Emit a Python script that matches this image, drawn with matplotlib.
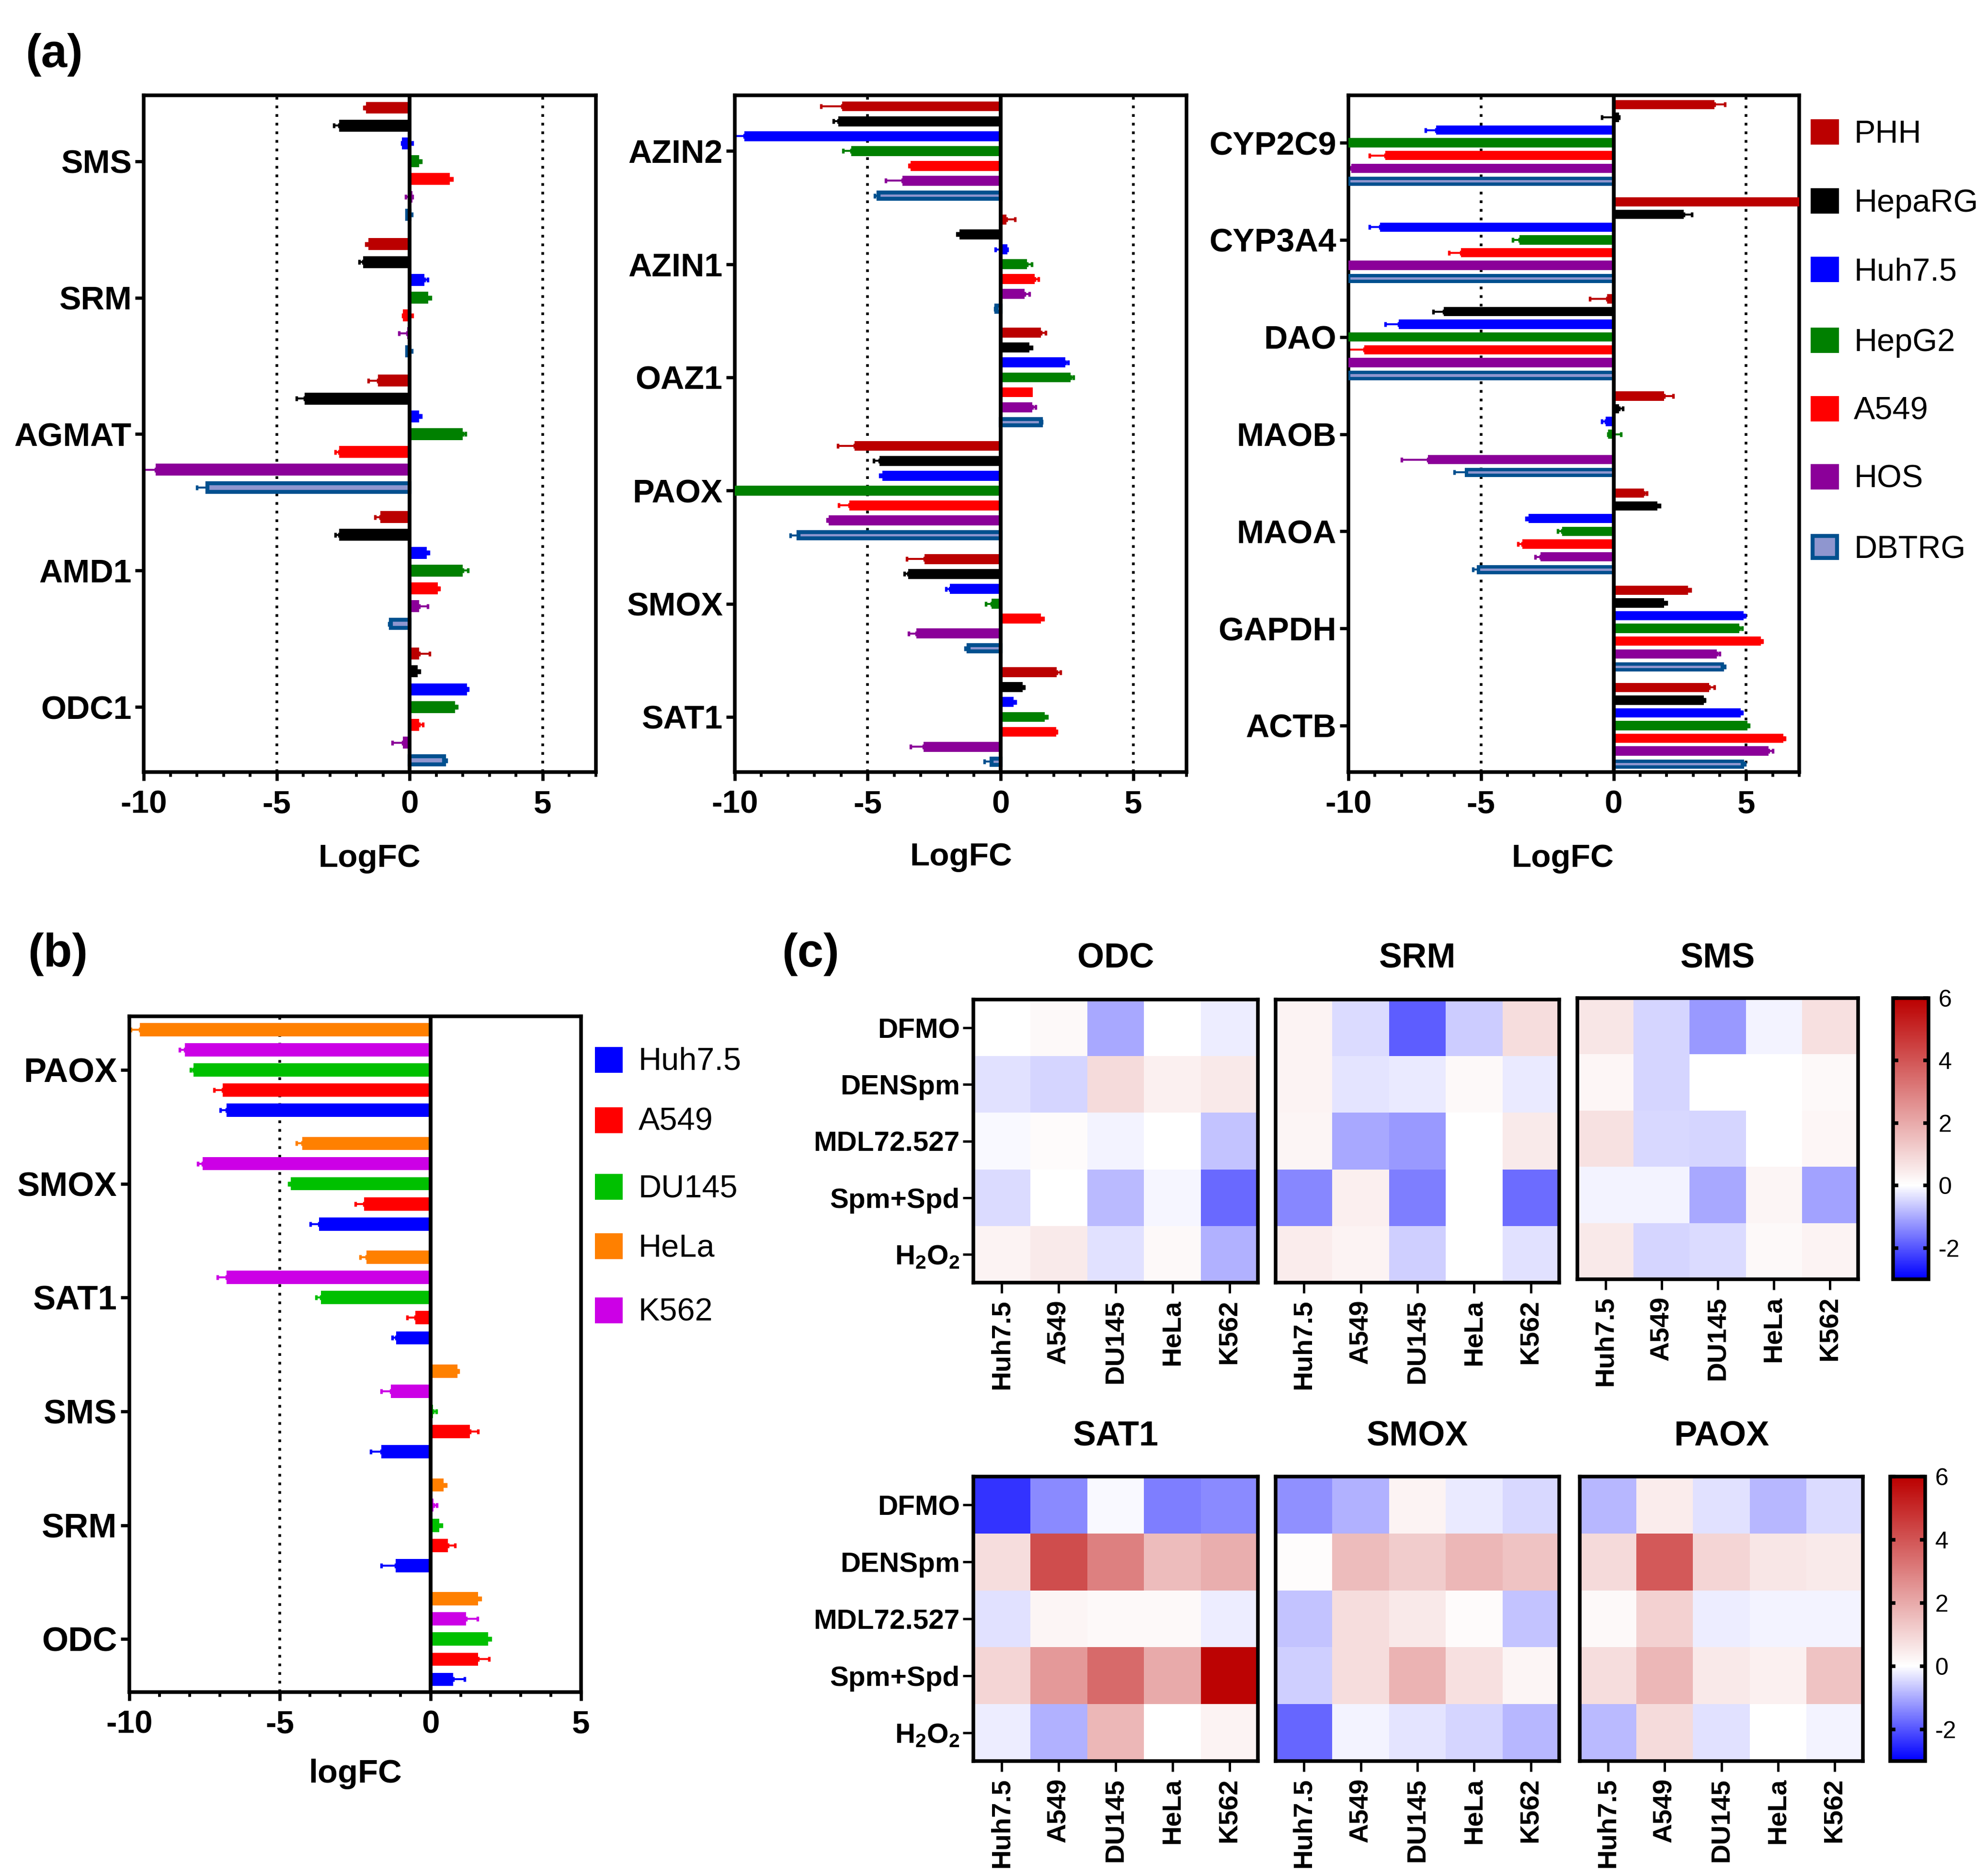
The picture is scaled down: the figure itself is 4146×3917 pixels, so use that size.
import matplotlib
matplotlib.use('Agg')
import matplotlib.pyplot as plt
import matplotlib.cm as cm
from matplotlib.colors import LinearSegmentedColormap, Normalize
from matplotlib.patches import Rectangle
import numpy as np

plt.rcParams['font.family'] = ['Liberation Sans', 'DejaVu Sans']
plt.rcParams['axes.unicode_minus'] = False
plt.rcParams['mathtext.fontset'] = 'custom'
plt.rcParams['mathtext.rm'] = 'Liberation Sans:bold'
plt.rcParams['mathtext.bf'] = 'Liberation Sans:bold'

W, H = 4146, 3917

# panel (a)
a_cells = ['PHH', 'HepaRG', 'Huh7.5', 'HepG2', 'A549', 'HOS', 'DBTRG']
a_colors = ['#BB0000', '#000000', '#0000FF', '#008000', '#FF0000', '#8B0099', '#00508F']

a1_genes = ['SMS', 'SRM', 'AGMAT', 'AMD1', 'ODC1']
a1_vals = [[-1.65, -2.65, -0.3, 0.35, 1.5, 0.1, -0.1],
           [-1.55, -1.75, 0.55, 0.7, -0.25, -0.1, -0.1],
           [-1.2, -3.95, 0.35, 2.0, -2.65, -9.55, -7.6],
           [-1.1, -2.65, 0.65, 2.0, 1.05, 0.35, -0.7],
           [0.35, 0.3, 2.15, 1.7, 0.35, -0.25, 1.3]]
a1_ends = [[-1.72, -2.85, 0.1, 0.42, 1.6, -0.15, 0.08],
           [-1.65, -1.9, 0.68, 0.78, 0.1, -0.4, 0.08],
           [-1.55, -4.25, 0.42, 2.1, -2.8, -10.0, -8.0],
           [-1.3, -2.8, 0.72, 2.2, 1.12, 0.68, -0.78],
           [0.75, 0.38, 2.2, 1.78, 0.5, -0.65, 1.38]]

a2_genes = ['AZIN2', 'AZIN1', 'OAZ1', 'PAOX', 'SMOX', 'SAT1']
a2_vals = [[-5.96, -6.11, -9.64, -5.62, -3.39, -3.69, -4.6],
           [0.22, -1.55, 0.25, 0.99, 1.29, 0.9, -0.15],
           [1.52, 1.09, 2.44, 2.63, 1.21, 1.2, 1.52],
           [-5.5, -4.56, -4.45, -10.0, -5.7, -6.46, -7.6],
           [-2.87, -3.48, -1.9, -0.34, 1.52, -3.17, -1.2],
           [2.12, 0.84, 0.49, 1.67, 2.09, -2.9, -0.33]]
a2_ends = [[-6.76, -6.28, -10.0, -5.92, -3.44, -4.32, -4.74],
           [0.54, -1.63, -0.2, 1.17, 1.43, 1.09, -0.22],
           [1.7, 1.17, 2.54, 2.75, 1.21, 1.32, 1.55],
           [-6.13, -4.78, -4.53, -10.0, -6.08, -6.52, -7.91],
           [-3.53, -3.62, -2.05, -0.55, 1.61, -3.45, -1.32],
           [2.26, 0.88, 0.57, 1.75, 2.11, -3.39, -0.6]]

a3_genes = ['CYP2C9', 'CYP3A4', 'DAO', 'MAOB', 'MAOA', 'GAPDH', 'ACTB']
a3_vals = [[3.8, 0.2, -6.7, -10.0, -8.6, -9.9, -10.0],
           [7.0, 2.65, -8.8, -3.55, -5.75, -10.0, -10.0],
           [-0.25, -6.4, -8.1, -10.0, -9.4, -10.0, -10.0],
           [1.9, 0.2, -0.3, -0.2, 0.0, -7.0, -5.55],
           [1.15, 1.65, -3.2, -1.95, -3.45, -2.75, -5.1],
           [2.8, 1.9, 4.9, 4.75, 5.55, 3.9, 4.1],
           [3.6, 3.4, 4.8, 5.05, 6.4, 5.85, 4.85]]
a3_ends = [[4.2, -0.45, -7.1, -10.0, -9.2, -10.0, -10.0],
           [7.0, 2.95, -9.2, -3.8, -6.2, -10.0, -10.0],
           [-0.9, -6.8, -8.6, -10.0, -10.0, -10.0, -10.0],
           [2.25, 0.35, -0.45, 0.28, 0.0, -8.0, -6.0],
           [1.25, 1.75, -3.3, -2.1, -3.6, -2.95, -5.3],
           [2.9, 2.0, 4.95, 4.85, 5.6, 4.0, 4.2],
           [3.8, 3.45, 4.85, 5.1, 6.45, 6.0, 4.95]]

# panel (b)
b_cells = ['HeLa', 'K562', 'DU145', 'A549', 'Huh7.5']
b_colors = ['#FF8000', '#CC00E6', '#00C000', '#FF0000', '#0000FF']
b_genes = ['PAOX', 'SMOX', 'SAT1', 'SMS', 'SRM', 'ODC']
b_vals = [[-9.65, -8.15, -7.87, -6.9, -6.77],
          [-4.25, -7.56, -4.64, -2.2, -3.7],
          [-2.13, -6.77, -3.63, -0.5, -1.14],
          [0.89, -1.31, 0.08, 1.31, -1.63],
          [0.44, 0.1, 0.29, 0.57, -1.16],
          [1.58, 1.18, 1.92, 1.58, 0.76]]
b_ends = [[-9.95, -8.33, -7.97, -7.18, -6.97],
          [-4.45, -7.73, -4.7, -2.49, -3.98],
          [-2.34, -7.08, -3.8, -0.77, -1.26],
          [0.92, -1.63, 0.2, 1.58, -1.98],
          [0.52, 0.22, 0.37, 0.81, -1.63],
          [1.66, 1.56, 2.0, 1.95, 1.14]]
b_legend = ['Huh7.5', 'A549', 'DU145', 'HeLa', 'K562']
b_legend_colors = ['#0000FF', '#FF0000', '#00C000', '#FF8000', '#CC00E6']

# panel (c)
treatments = ['DFMO', 'DENSpm', 'MDL72.527', 'Spm+Spd', r'$\mathbf{H_2O_2}$']
heat_cells = ['Huh7.5', 'A549', 'DU145', 'HeLa', 'K562']
odc = [[0, 0.15, -1.0, 0, -0.2],
       [-0.35, -0.5, 0.85, 0.35, 0.55],
       [-0.05, 0.12, -0.15, 0, -0.7],
       [-0.4, 0, -0.8, -0.1, -1.75],
       [0.3, 0.5, -0.35, 0.15, -0.9]]
srm = [[0.3, -0.4, -1.9, -0.6, 0.8],
       [0.3, -0.3, -0.25, 0.15, -0.25],
       [0.25, -1.0, -1.2, 0.02, 0.5],
       [-1.4, 0.4, -1.5, 0, -1.7],
       [0.45, 0.3, -0.55, 0, -0.35]]
sms = [[0.6, -0.5, -1.2, -0.15, 0.75],
       [0.2, -0.5, 0, 0, 0.15],
       [0.7, -0.45, -0.5, 0, 0.2],
       [-0.15, -0.12, -1.0, 0.25, -1.1],
       [0.55, -0.5, -0.4, 0.15, 0.3]]
sat1 = [[-2.4, -1.35, -0.08, -1.5, -1.35],
        [0.8, 4.2, 3.0, 1.6, 1.9],
        [-0.35, 0.25, 0.15, 0.15, -0.2],
        [1.0, 2.4, 3.5, 2.0, 5.9],
        [-0.2, -0.9, 1.7, 0, 0.3]]
smox = [[-1.3, -0.9, 0.3, -0.25, -0.45],
        [0.07, 1.6, 1.2, 1.7, 1.4],
        [-0.7, 0.8, 0.55, 0.1, -0.7],
        [-0.55, 0.8, 1.8, 0.75, 0.25],
        [-1.8, -0.15, -0.3, -0.5, -0.85]]
paox = [[-0.85, 0.45, -0.35, -0.85, -0.4],
        [0.9, 3.9, 1.0, 0.6, 0.5],
        [0.15, 1.1, -0.2, -0.12, -0.15],
        [0.8, 1.7, 0.55, 0.35, 1.4],
        [-0.8, 0.85, -0.35, 0, -0.15]]

fig = plt.figure(figsize=(W / 300, H / 300), dpi=300, facecolor='white')


def px_axes(l, t, r, b):
    return fig.add_axes([l / W, 1 - b / H, (r - l) / W, (b - t) / H])


def px_text(x, y, s, **kw):
    kw.setdefault('ha', 'center')
    kw.setdefault('va', 'center')
    fig.text(x / W, 1 - y / H, s, **kw)


def px_swatch(x, yc, w, h, face, edge='none', lw=0):
    # x is the left edge, yc the vertical centre
    fig.add_artist(Rectangle((x / W, 1 - (yc + h / 2) / H), w / W, h / H, facecolor=face,
                             edgecolor=edge, linewidth=lw, transform=fig.transFigure))


def bar_panel(ax, genes, vals, ends, colors, xmax, step, margin, thick, dbtrg_thick=None,
              dbtrg_lw=2.0, ysize=16.4):
    n = len(vals[0])
    mid = (n - 1) / 2
    for g, (row, row_end) in enumerate(zip(vals, ends)):
        for j in range(n):
            y = g * step + j - mid
            v, e = row[j], row_end[j]
            if v == 0 and e == 0:
                continue
            if e != v:
                lo, up = max(v - e, 0), max(e - v, 0)
                ax.errorbar(v, y, xerr=[[lo], [up]], color=colors[j], elinewidth=1.0,
                            capsize=1.3, capthick=1.3, zorder=2)
            if dbtrg_thick is not None and j == n - 1:
                ax.barh(y, v, height=dbtrg_thick, color='#8F96CF', edgecolor=colors[j],
                        linewidth=dbtrg_lw, zorder=3)
            else:
                ax.barh(y, v, height=thick, color=colors[j], linewidth=0, zorder=3)
    ax.axvline(0, color='black', lw=1.9, zorder=5)
    ax.axvline(-5, color='black', ls=(0, (1, 2.2)), lw=1.35, zorder=1)
    if xmax > 5:
        ax.axvline(5, color='black', ls=(0, (1, 2.2)), lw=1.35, zorder=1)
    ax.set_xlim(-10, xmax)
    ax.set_ylim((len(genes) - 1) * step + mid + margin[1], -mid - margin[0])
    ax.set_xticks([-10, -5, 0, 5])
    ax.set_xticklabels(['-10', '-5', '0', '5'], fontsize=16.2, fontweight='bold')
    ax.set_xticks(np.arange(-10, xmax + 1), minor=True)
    ax.set_yticks([g * step for g in range(len(genes))])
    ax.set_yticklabels(genes, fontsize=ysize, fontweight='bold')
    ax.tick_params(axis='x', which='major', length=4.3, width=1.6, pad=4.8)
    ax.tick_params(axis='x', which='minor', length=2.4, width=1.4)
    ax.tick_params(axis='y', length=4.3, width=1.6, pad=1.8)
    for s in ax.spines.values():
        s.set_linewidth(1.8)


ax1 = px_axes(300, 199, 1244, 1612)
bar_panel(ax1, a1_genes, a1_vals, a1_ends, a_colors, 7, 7.66, (0.7, 0.65), 0.67, 0.46)
ax2 = px_axes(1534, 199, 2477, 1612)
bar_panel(ax2, a2_genes, a2_vals, a2_ends, a_colors, 7, 7.6, (0.74, 0.7), 0.67, 0.42)
ax3 = px_axes(2815, 199, 3756, 1612)
bar_panel(ax3, a3_genes, a3_vals, a3_ends, a_colors, 7, 7.63, (0.73, 0.65), 0.73, 0.46, 1.7)
axb = px_axes(270, 2122, 1213, 3533)
bar_panel(axb, b_genes, b_vals, b_ends, b_colors, 5, 5.65, (0.66, 0.63), 0.66, ysize=17)

px_text(771, 1793, 'LogFC', fontsize=16.2, fontweight='bold')
px_text(2006, 1790, 'LogFC', fontsize=16.2, fontweight='bold')
px_text(3262, 1793, 'LogFC', fontsize=16.2, fontweight='bold')
px_text(742, 3704, 'logFC', fontsize=16.5, fontweight='bold')

px_text(53, 114, '(a)', ha='left', fontsize=23.5, fontweight='bold')
px_text(58, 1992, '(b)', ha='left', fontsize=23.5, fontweight='bold')
px_text(1632, 1992, '(c)', ha='left', fontsize=23.5, fontweight='bold')

# legends are placed by hand, the spacing in the figure is not regular
a_legend_y = [275, 419, 562, 710, 853, 995, 1142]
for y, name, col in zip(a_legend_y, a_cells, a_colors):
    if name == 'DBTRG':
        px_swatch(3784, y, 51, 46, '#8F96CF', col, 2.0)
    else:
        px_swatch(3780, y, 59, 53, col)
    px_text(3870, y + 6, name, ha='left', fontsize=16)

b_legend_y = [2213, 2339, 2478, 2602, 2736]
for y, name, col in zip(b_legend_y, b_legend, b_legend_colors):
    px_swatch(1242, y, 58, 54, col)
    px_text(1333, y + 4, name, ha='left', fontsize=16)

# blue to white at 0 to dark red, -3..6
bwr_nodes = [(0.0, '#0000FF'), (1 / 3, '#FFFFFF'), (1.0, '#BB0000')]
heat_cmap = LinearSegmentedColormap.from_list('heat', bwr_nodes)
heat_norm = Normalize(vmin=-3, vmax=6)


def heat_panel(box, data, title, title_y, ylabels):
    ax = px_axes(*box)
    ax.pcolormesh(np.array(data, dtype=float), cmap=heat_cmap, norm=heat_norm)
    ax.invert_yaxis()
    ax.set_xticks(np.arange(5) + 0.5)
    ax.set_xticklabels(heat_cells, rotation=90, fontsize=13.5, fontweight='bold')
    ax.tick_params(axis='x', length=5.3, width=1.2, pad=3.2)
    if ylabels:
        ax.set_yticks(np.arange(5) + 0.5)
        ax.set_yticklabels(treatments, fontsize=14, fontweight='bold')
        ax.tick_params(axis='y', length=5.3, width=1.2, pad=1.5)
    else:
        ax.set_yticks([])
    for s in ax.spines.values():
        s.set_linewidth(1.8)
    px_text((box[0] + box[2]) / 2, title_y, title, fontsize=17.3, fontweight='bold')
    return ax


heat_panel((2032, 2087, 2626, 2678), odc, 'ODC', 2000, True)
heat_panel((2663, 2087, 3255, 2678), srm, 'SRM', 2000, False)
heat_panel((3293, 2084, 3879, 2671), sms, 'SMS', 2000, False)
heat_panel((2032, 3083, 2626, 3677), sat1, 'SAT1', 2999, True)
heat_panel((2663, 3083, 3255, 3677), smox, 'SMOX', 2999, False)
heat_panel((3298, 3083, 3889, 3677), paox, 'PAOX', 2999, False)

cbar_ticks = [-2, 0, 2, 4, 6]
cbar_labels = ['-2', '0', '2', '4', '6']
for box in [(3952, 2084, 4026, 2671), (3946, 3083, 4019, 3677)]:
    cax = px_axes(*box)
    cb = fig.colorbar(cm.ScalarMappable(norm=heat_norm, cmap=heat_cmap), cax=cax)
    cb.set_ticks(cbar_ticks)
    cb.set_ticklabels(cbar_labels)
    cb.outline.set_linewidth(1.8)
    cax.minorticks_off()
    cax.tick_params(axis='y', direction='in', left=True, right=True, length=2.6, width=1.8,
                    labelsize=12, pad=5)

fig.savefig('out.png', dpi=300)
